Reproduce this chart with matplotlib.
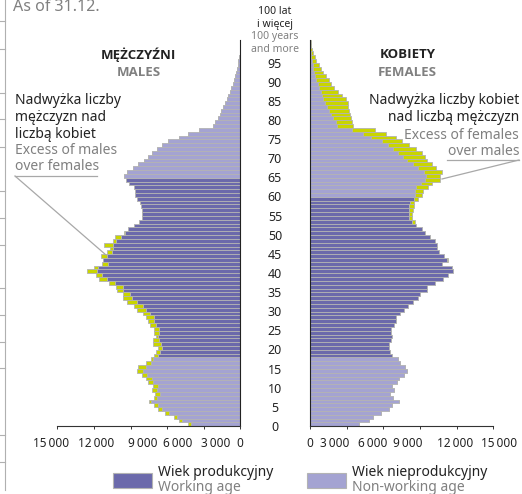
import numpy as np
import matplotlib
matplotlib.use("Agg")
import matplotlib.pyplot as plt
from matplotlib.patches import Rectangle
from matplotlib.lines import Line2D
import matplotlib.transforms as mtransforms

plt.rcParams['font.family'] = ['Noto Sans', 'DejaVu Sans']

# population by single year of age, as of 31.12.
ages = np.arange(101)
males = [4260, 5000, 5430, 6170, 6720, 7070, 7480, 7070, 6990, 7260,
         7130, 7540, 7730, 8080, 8490, 8360, 7750, 7320, 7070, 6910,
         6720, 7180, 7130, 6910, 7070, 7070, 7400, 7540, 7730, 7950,
         8440, 8690, 9310, 9590, 9640, 10080, 10210, 10760, 11560, 11850,
         12590, 11990, 11360, 11230, 11440, 10900, 10680, 11150, 10410, 10270,
         9510, 9180, 8710, 8330, 8080, 8080, 8080, 8140, 8220, 8490,
         8630, 8630, 8690, 9100, 9390, 9510, 9310, 8800, 8400, 7900,
         7600, 7200, 6800, 6400, 5900, 5000, 4300, 3400, 2250, 2100,
         1850, 1700, 1550, 1400, 1250, 1100, 980, 860, 740, 620,
         520, 430, 350, 280, 210, 150, 100, 65, 40, 25, 20]
females = [4040, 4800, 5160, 5820, 6440, 6720, 7300, 6800, 6580, 6850,
           6720, 7130, 7260, 7670, 7950, 7750, 7340, 7180, 6720, 6580,
           6440, 6500, 6640, 6720, 6640, 6640, 6910, 7070, 7070, 7400,
           7730, 8000, 8440, 8850, 9040, 9590, 9590, 10270, 10900, 11310,
           11720, 11640, 10820, 11290, 10950, 10540, 10410, 10410, 10190, 9800,
           9450, 9180, 8690, 8600, 8350, 8330, 8410, 8540, 8510, 8870,
           9190, 9270, 9630, 10010, 10640, 10640, 10800, 10300, 10000, 9600,
           9400, 9150, 8700, 8100, 7500, 7000, 6200, 5300, 3550, 3450,
           3350, 3250, 3200, 3150, 3100, 2950, 2650, 2300, 2000, 1750,
           1550, 1300, 1100, 900, 720, 520, 400, 280, 180, 110, 80]
working_m = (18, 64)
working_f = (18, 59)
xticks = [0, 3000, 6000, 9000, 12000, 15000]
xticklabels = ['0', '3\u2009000', '6\u2009000', '9\u2009000', '12\u2009000', '15\u2009000']

DARK = '#6b69ab'
LIGHT = '#a4a3d2'
EXCESS = '#c9d500'
EDGE = '#b3b3b3'
GREY = '#808080'
INK = '#222222'

W, H = 522, 494
fig = plt.figure(figsize=(W / 100, H / 100), dpi=100)


def fx(x):
    return x / W


def fy(y):
    return 1 - y / H


axL = fig.add_axes([fx(57.3), fy(426.3), 183 / W, (426.3 - 40) / H])
axR = fig.add_axes([fx(310), fy(426.3), 183.3 / W, (426.3 - 40) / H])

males = np.array(males)
females = np.array(females)
common = np.minimum(males, females)


def draw_side(ax, own, work):
    cols = [DARK if work[0] <= a <= work[1] else LIGHT for a in ages]
    ax.barh(ages, common, height=1.0, color=cols, edgecolor=EDGE, linewidth=0.6)
    extra = np.clip(own - common, 0, None)
    ax.barh(ages, extra, left=common, height=1.0, color=EXCESS,
            edgecolor=EDGE, linewidth=0.6)


draw_side(axL, males, working_m)
draw_side(axR, females, working_f)

# the labels lean towards zero, as in the printed original
shift = {0: 0, 3000: 12, 6000: 11, 9000: 12, 12000: 2, 15000: -6}
for ax, sign in ((axL, 1), (axR, -1)):
    ax.set_ylim(-0.5, 100.5)
    ax.set_yticks([])
    ax.set_xticks(xticks)
    ax.set_xticklabels([])
    ax.tick_params(axis='x', length=2.5, width=0.7, color='#333333')
    for s in ('top', 'left', 'right', 'bottom'):
        ax.spines[s].set_visible(False)
    ax.spines['bottom'].set_visible(True)
    ax.spines['bottom'].set_color('#333333')
    ax.spines['bottom'].set_linewidth(0.8)
    ax.patch.set_alpha(0)
    tr = mtransforms.blended_transform_factory(ax.transData, fig.transFigure)
    for v, lab in zip(xticks, xticklabels):
        off = mtransforms.ScaledTranslation(sign * shift[v] / 100, 0, fig.dpi_scale_trans)
        ax.text(v, fy(443), lab, transform=tr + off, ha='center', va='center',
                fontsize=8.5, color=INK)

axL.set_xlim(15000, 0)
axL.spines['right'].set_visible(True)
axL.spines['right'].set_color(INK)
axR.set_xlim(0, 15000)
axR.spines['left'].set_visible(True)
axR.spines['left'].set_color(INK)

# age labels in the middle
trans = mtransforms.blended_transform_factory(fig.transFigure, axR.transData)
for a in range(0, 100, 5):
    fig.text(fx(275), a - 0.8, str(a), transform=trans, ha='center', va='center',
             fontsize=9, color=INK)
fig.text(fx(275), fy(12), '100 lat', ha='center', va='center', fontsize=7.5, color=INK)
fig.text(fx(275), fy(24), 'i więcej', ha='center', va='center', fontsize=7.5, color=INK)
fig.text(fx(275), fy(37), '100 years', ha='center', va='center', fontsize=7.5, color=GREY)
fig.text(fx(275), fy(49), 'and more', ha='center', va='center', fontsize=7.5, color=GREY)

fig.text(fx(13), fy(7), 'As of 31.12.', ha='left', va='center', fontsize=11.5, color=GREY)

# side titles
bold = dict(ha='center', va='center', fontsize=9.5, fontweight='bold',
            family=['Open Sans', 'DejaVu Sans'])
fig.text(fx(138.5), fy(55), 'MĘŻCZYŹNI', color=INK, **bold)
fig.text(fx(138.5), fy(72), 'MALES', color=GREY, **bold)
fig.text(fx(407.5), fy(55), 'KOBIETY', color=INK, **bold)
fig.text(fx(407.5), fy(72), 'FEMALES', color=GREY, **bold)

# excess annotations
for i, t in enumerate(['Nadwyżka liczby', 'mężczyzn nad', 'liczbą kobiet']):
    fig.text(fx(15), fy(101 + 16.5 * i), t, ha='left', va='center', fontsize=10, color=INK)
for i, t in enumerate(['Excess of males', 'over females']):
    fig.text(fx(15), fy(150 + 16.5 * i), t, ha='left', va='center', fontsize=10, color=GREY)
for i, t in enumerate(['Nadwyżka liczby kobiet', 'nad liczbą mężczyzn']):
    fig.text(fx(519), fy(101 + 16.5 * i), t, ha='right', va='center', fontsize=10, color=INK)
for i, t in enumerate(['Excess of females', 'over males']):
    fig.text(fx(519), fy(135 + 16.5 * i), t, ha='right', va='center', fontsize=10, color=GREY)

lines = [
    ([15, 97], [176, 176]), ([15, 106], [176, 255]),
    ([447, 519], [160, 160]), ([519, 442], [160, 179]),
]
for xs, ys in lines:
    fig.add_artist(Line2D([fx(x) for x in xs], [fy(y) for y in ys],
                          color='#a8a8a8', lw=0.9))

# border of the neighbouring table on the far left
fig.add_artist(Line2D([fx(4.5), fx(4.5)], [fy(0), fy(490)], color='#b0b0b0', lw=0.8))
for y in [21, 49, 93, 119, 147, 191, 218, 245, 288, 315, 342, 368, 435, 462]:
    fig.add_artist(Line2D([fx(0), fx(4.5)], [fy(y), fy(y)], color='#b0b0b0', lw=0.8))

# legend
fig.add_artist(Rectangle((fx(113), fy(488)), 39 / W, 15 / H, transform=fig.transFigure,
                         facecolor=DARK, edgecolor=EDGE, lw=0.8))
fig.text(fx(158), fy(472), 'Wiek produkcyjny', ha='left', va='center', fontsize=10, color=INK)
fig.text(fx(158), fy(487), 'Working age', ha='left', va='center', fontsize=10, color=GREY)
fig.add_artist(Rectangle((fx(307), fy(488)), 39 / W, 15 / H, transform=fig.transFigure,
                         facecolor=LIGHT, edgecolor=EDGE, lw=0.8))
fig.text(fx(352), fy(472), 'Wiek nieprodukcyjny', ha='left', va='center', fontsize=10, color=INK)
fig.text(fx(352), fy(487), 'Non-working age', ha='left', va='center', fontsize=10, color=GREY)

fig.savefig('out.png', dpi=100)
